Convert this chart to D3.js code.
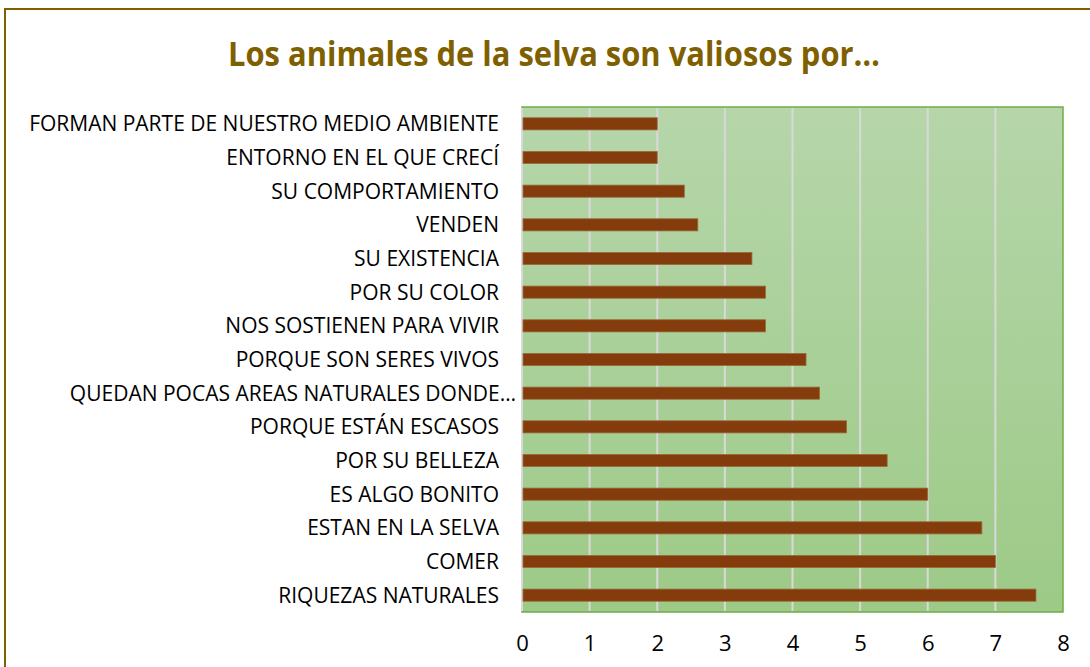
<!doctype html>
<html>
<head>
<meta charset="utf-8">
<title>Los animales de la selva</title>
<script src="https://cdnjs.cloudflare.com/ajax/libs/d3/7.8.5/d3.min.js"></script>
<style>
  body { margin: 0; background: #fff; }
  svg { display: block; font-family: "Open Sans", "Noto Sans", sans-serif; }
</style>
</head>
<body>
<div id="chart"></div>
<script>
// categories top to bottom
const categories = [
  "FORMAN PARTE DE NUESTRO MEDIO AMBIENTE",
  "ENTORNO EN EL QUE CRECÍ",
  "SU COMPORTAMIENTO",
  "VENDEN",
  "SU EXISTENCIA",
  "POR SU COLOR",
  "NOS SOSTIENEN PARA VIVIR",
  "PORQUE SON SERES VIVOS",
  "QUEDAN POCAS AREAS NATURALES DONDE…",
  "PORQUE ESTÁN ESCASOS",
  "POR SU BELLEZA",
  "ES ALGO BONITO",
  "ESTAN EN LA SELVA",
  "COMER",
  "RIQUEZAS NATURALES"
];
const values = [2, 2, 2.4, 2.6, 3.4, 3.6, 3.6, 4.2, 4.4, 4.8, 5.4, 6, 6.8, 7, 7.6];
const ticks = [0, 1, 2, 3, 4, 5, 6, 7, 8];

const width = 1090, height = 667;
const plot = { left: 522, right: 1063, top: 107, bottom: 612 };

const svg = d3.select('#chart').append('svg')
  .attr('width', width)
  .attr('height', height);

// outer frame
svg.append('rect')
  .attr('x', 5).attr('y', 9)
  .attr('width', 1100).attr('height', 700)
  .attr('fill', '#fff')
  .attr('stroke', '#7f6000')
  .attr('stroke-width', 2);

// title
svg.append('text')
  .attr('x', 228).attr('y', 66)
  .attr('textLength', 652)
  .attr('lengthAdjust', 'spacingAndGlyphs')
  .style('font-family', '"Open Sans", sans-serif')
  .style('font-weight', 'bold')
  .style('font-size', '34px')
  .attr('fill', '#7f6000')
  .text('Los animales de la selva son valiosos por…');

const x = d3.scaleLinear().domain([0, 8]).range([plot.left, plot.right]);
const y = d3.scaleBand().domain(categories).range([plot.top, plot.bottom])
  .paddingInner(0.64).paddingOuter(0.32);

// plot background gradient
const grad = svg.append('defs').append('linearGradient')
  .attr('id', 'bg').attr('x1', 0).attr('y1', 0).attr('x2', 0).attr('y2', 1);
grad.append('stop').attr('offset', '0%').attr('stop-color', '#b6d6aa');
grad.append('stop').attr('offset', '100%').attr('stop-color', '#9dca87');

svg.append('rect')
  .attr('x', plot.left).attr('y', plot.top)
  .attr('width', plot.right - plot.left).attr('height', plot.bottom - plot.top)
  .attr('fill', 'url(#bg)')
  .attr('stroke', '#70ad47')
  .attr('stroke-width', 1.5);

// gridlines
svg.append('g').selectAll('line')
  .data(ticks.filter(t => t < 8))
  .join('line')
  .attr('x1', d => x(d)).attr('x2', d => x(d))
  .attr('y1', plot.top + 1).attr('y2', plot.bottom - 1)
  .attr('stroke', '#d9d9d9')
  .attr('stroke-width', 2);

// bars
svg.append('g').selectAll('rect')
  .data(values)
  .join('rect')
  .attr('x', x(0) + 1)
  .attr('y', (d, i) => y(categories[i]))
  .attr('width', d => x(d) - x(0) - 1)
  .attr('height', y.bandwidth())
  .attr('fill', '#843c0c')
  .attr('stroke', '#9a6a3a')
  .attr('stroke-width', 0.8);

// category labels
svg.append('g').selectAll('text')
  .data(categories)
  .join('text')
  .attr('x', d => d.endsWith('…') ? 516 : 499)
  .attr('y', d => y(d) + y.bandwidth() / 2)
  .attr('dy', '0.35em')
  .attr('text-anchor', 'end')
  .style('font-size', '21px')
  .attr('fill', '#000')
  .text(d => d);

// x axis labels
const xAxis = d3.axisBottom(x).tickValues(ticks).tickSize(0).tickPadding(23);
const gx = svg.append('g')
  .attr('transform', `translate(0,${plot.bottom})`)
  .call(xAxis);
gx.select('.domain').remove();
gx.selectAll('text')
  .style('font-family', '"Open Sans", sans-serif')
  .style('font-size', '22px')
  .attr('fill', '#000');
</script>
</body>
</html>
